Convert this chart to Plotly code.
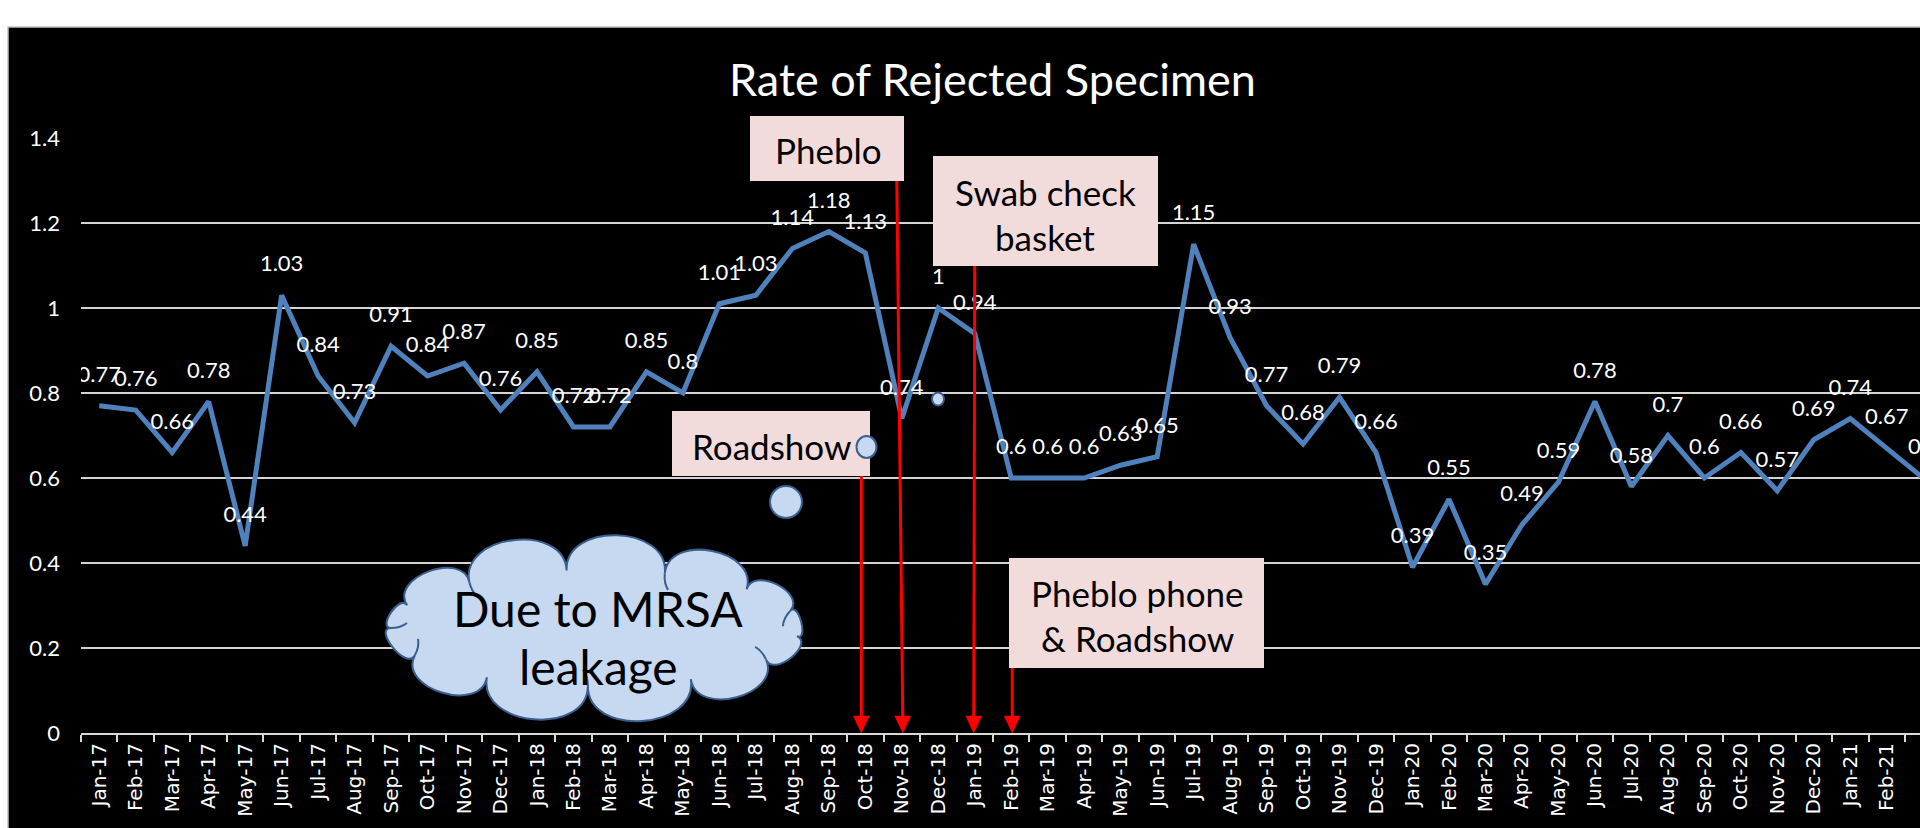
import math
import plotly.graph_objects as go

# ---------------- data ----------------
months = ["Jan-17", "Feb-17", "Mar-17", "Apr-17", "May-17", "Jun-17", "Jul-17", "Aug-17",
          "Sep-17", "Oct-17", "Nov-17", "Dec-17", "Jan-18", "Feb-18", "Mar-18", "Apr-18",
          "May-18", "Jun-18", "Jul-18", "Aug-18", "Sep-18", "Oct-18", "Nov-18", "Dec-18",
          "Jan-19", "Feb-19", "Mar-19", "Apr-19", "May-19", "Jun-19", "Jul-19", "Aug-19",
          "Sep-19", "Oct-19", "Nov-19", "Dec-19", "Jan-20", "Feb-20", "Mar-20", "Apr-20",
          "May-20", "Jun-20", "Jul-20", "Aug-20", "Sep-20", "Oct-20", "Nov-20", "Dec-20",
          "Jan-21", "Feb-21", "Mar-21"]
rate = [0.77, 0.76, 0.66, 0.78, 0.44, 1.03, 0.84, 0.73, 0.91, 0.84, 0.87, 0.76,
        0.85, 0.72, 0.72, 0.85, 0.8, 1.01, 1.03, 1.14, 1.18, 1.13, 0.74, 1.0,
        0.94, 0.6, 0.6, 0.6, 0.63, 0.65, 1.15, 0.93, 0.77, 0.68, 0.79, 0.66,
        0.39, 0.55, 0.35, 0.49, 0.59, 0.78, 0.58, 0.7, 0.6, 0.66, 0.57, 0.69,
        0.74, 0.67, 0.6]
y_ticks = [0, 0.2, 0.4, 0.6, 0.8, 1.0, 1.2, 1.4]
chart_title = "Rate of Rejected Specimen"

# ---------------- geometry helpers (pixels) ----------------
W, H = 1920, 828
L, T, B = 81, 138, 733
PW, PH = W - L, B - T
SPACING = 36.48
x_max = -0.5 + PW / SPACING

def px(x):
    return (x - L) / PW

def py(y):
    return (B - y) / PH

def rx_(x):
    return x - L

def ry_(y):
    return B - y

def pix(**kw):
    d = dict(xref="paper", yref="paper", xsizemode="pixel", ysizemode="pixel",
             xanchor=0, yanchor=0)
    d.update(kw)
    return d

BOX_FILL = "#F2DCDB"
CLOUD_FILL = "#C6D9F1"
CLOUD_LINE = "#3A5F8F"
RED = "#FF0000"
FONT = "Lato"

shapes = []
# black chart area with light border
shapes.append(pix(type="rect", x0=rx_(8), x1=rx_(1930), y0=ry_(27), y1=ry_(840),
                  fillcolor="black", line=dict(color="#BFBFBF", width=1.5), layer="below"))

# text boxes
def box(x0, y0, x1, y1):
    shapes.append(pix(type="rect", x0=rx_(x0), x1=rx_(x1), y0=ry_(y0), y1=ry_(y1),
                      fillcolor=BOX_FILL, line=dict(width=0)))

box(750, 116, 904, 181)      # Pheblo
box(933, 156, 1158, 266)     # Swab check basket
box(672, 411, 870, 476)      # Roadshow
box(1009, 558, 1264, 668)    # Pheblo phone & Roadshow

# red arrows anchored to the category they point at
def red_arrow(cat, top_y, top_dx, tip_dx):
    i = months.index(cat)
    h = B - top_y
    shapes.append(dict(type="path", xref="x", yref="y", xsizemode="pixel", ysizemode="pixel",
                       xanchor=i, yanchor=0,
                       path=f"M{top_dx},{h} L{tip_dx},14",
                       line=dict(color=RED, width=3)))
    shapes.append(dict(type="path", xref="x", yref="y", xsizemode="pixel", ysizemode="pixel",
                       xanchor=i, yanchor=0,
                       path=f"M{tip_dx-8},17 L{tip_dx+8},17 L{tip_dx},0 Z",
                       fillcolor=RED, line=dict(color=RED, width=0.5)))

red_arrow("Oct-18", 476, -4, -4)
red_arrow("Nov-18", 181, -5, 1)
red_arrow("Jan-19", 266, 0, -1)
red_arrow("Feb-19", 668, 1, 1)

# cloud
def cloud_path(cx, cy, ax, ay, angles, f):
    pts = []
    for a in angles:
        t = math.radians(a)
        x = cx + ax * math.cos(t)
        y = cy + ay * math.sin(t)
        nx, ny = math.cos(t) / ax, math.sin(t) / ay
        n = math.hypot(nx, ny)
        pts.append((x, y, nx / n, ny / n))
    segs = [f"M{rx_(pts[0][0]):.1f},{ry_(pts[0][1]):.1f}"]
    for j in range(len(pts)):
        x0, y0, n0x, n0y = pts[j]
        x1, y1, n1x, n1y = pts[(j + 1) % len(pts)]
        c = math.hypot(x1 - x0, y1 - y0)
        k = f * c
        c1 = (x0 + n0x * k, y0 + n0y * k)
        c2 = (x1 + n1x * k, y1 + n1y * k)
        segs.append(f"C{rx_(c1[0]):.1f},{ry_(c1[1]):.1f} {rx_(c2[0]):.1f},{ry_(c2[1]):.1f} "
                    f"{rx_(x1):.1f},{ry_(y1):.1f}")
    segs.append("Z")
    return " ".join(segs), pts

angles = [180, 203, 232, 262, 290, 318, 343, 8, 33, 62, 92, 122, 152]
cpath, cpts = cloud_path(595, 628, 204, 58, angles, 0.5)
shapes.append(pix(type="path", path=cpath, fillcolor=CLOUD_FILL,
                  line=dict(color=CLOUD_LINE, width=2)))
# small inner arcs of the cloud (continuations of the bumps)
for j in range(0, len(cpts), 2):
    x, y, nx, ny = cpts[j]
    d = 16
    ex, ey = x - nx * d - ny * 5, y - ny * d + nx * 5
    cxp, cyp = x - nx * d * 0.6, y - ny * d * 0.6
    shapes.append(pix(type="path",
                      path=f"M{rx_(x):.1f},{ry_(y):.1f} Q{rx_(cxp):.1f},{ry_(cyp):.1f} {rx_(ex):.1f},{ry_(ey):.1f}",
                      line=dict(color=CLOUD_LINE, width=2)))

# thought bubbles
def bubble(cx, cy, r1, r2):
    shapes.append(pix(type="circle", x0=rx_(cx - r1), x1=rx_(cx + r1),
                      y0=ry_(cy - r2), y1=ry_(cy + r2),
                      fillcolor=CLOUD_FILL, line=dict(color=CLOUD_LINE, width=2)))

bubble(786, 502, 16, 16)
bubble(866.5, 447, 10, 11)
bubble(938, 399, 6, 6.5)

# ---------------- annotations ----------------
annotations = []
def label(text, x, y, size, color="black"):
    annotations.append(dict(text=text, x=px(x), y=py(y), xref="paper", yref="paper",
                            xanchor="center", yanchor="middle", showarrow=False,
                            font=dict(family=FONT, size=size, color=color)))

label(chart_title, 992, 79, 45, "white")
label("Pheblo", 828, 150, 35)
label("Swab check", 1045, 192, 35)
label("basket", 1045, 237, 35)
label("Roadshow", 771, 446, 35)
label("Pheblo phone", 1137, 593, 35)
label("&amp; Roadshow", 1137, 638, 35)
label("Due to MRSA", 598, 608, 48)
label("leakage", 598, 666, 48)

# ---------------- figure ----------------
fig = go.Figure()
fig.add_trace(go.Scatter(
    x=months, y=rate, mode="lines+markers+text",
    text=[f"{v:g}" for v in rate], textposition="top center",
    textfont=dict(family=FONT, size=22, color="white"),
    line=dict(color="#4F81BD", width=5),
    marker=dict(size=28, color="rgba(0,0,0,0)"),
    cliponaxis=True, hoverinfo="skip", showlegend=False))

fig.update_layout(
    template="none",
    width=W, height=H,
    margin=dict(l=L, r=0, t=T, b=H - B, pad=0),
    paper_bgcolor="white", plot_bgcolor="black",
    showlegend=False,
    shapes=shapes, annotations=annotations,
    xaxis=dict(type="category", range=[-0.5, x_max], tickson="boundaries",
               ticks="outside", ticklen=7, tickwidth=1.5, tickcolor="#D9D9D9",
               showline=True, linecolor="#D9D9D9", linewidth=2,
               showgrid=False, zeroline=False, tickangle=-90,
               tickfont=dict(family="DejaVu Sans", size=20, color="white"),
               automargin=False),
    yaxis=dict(range=[0, 1.4], tickvals=y_ticks, ticktext=[f"{v:g}" for v in y_ticks],
               showgrid=True, gridcolor="#D4D4D4", gridwidth=1.7,
               zeroline=False, showline=False, ticks="",
               ticklabelstandoff=20,
               tickfont=dict(family=FONT, size=22, color="white"),
               automargin=False),
)

fig.write_html("out.html", config={"displayModeBar": False},
               post_script="document.body.style.margin='0px';"
                           "document.body.style.overflow='hidden';")
